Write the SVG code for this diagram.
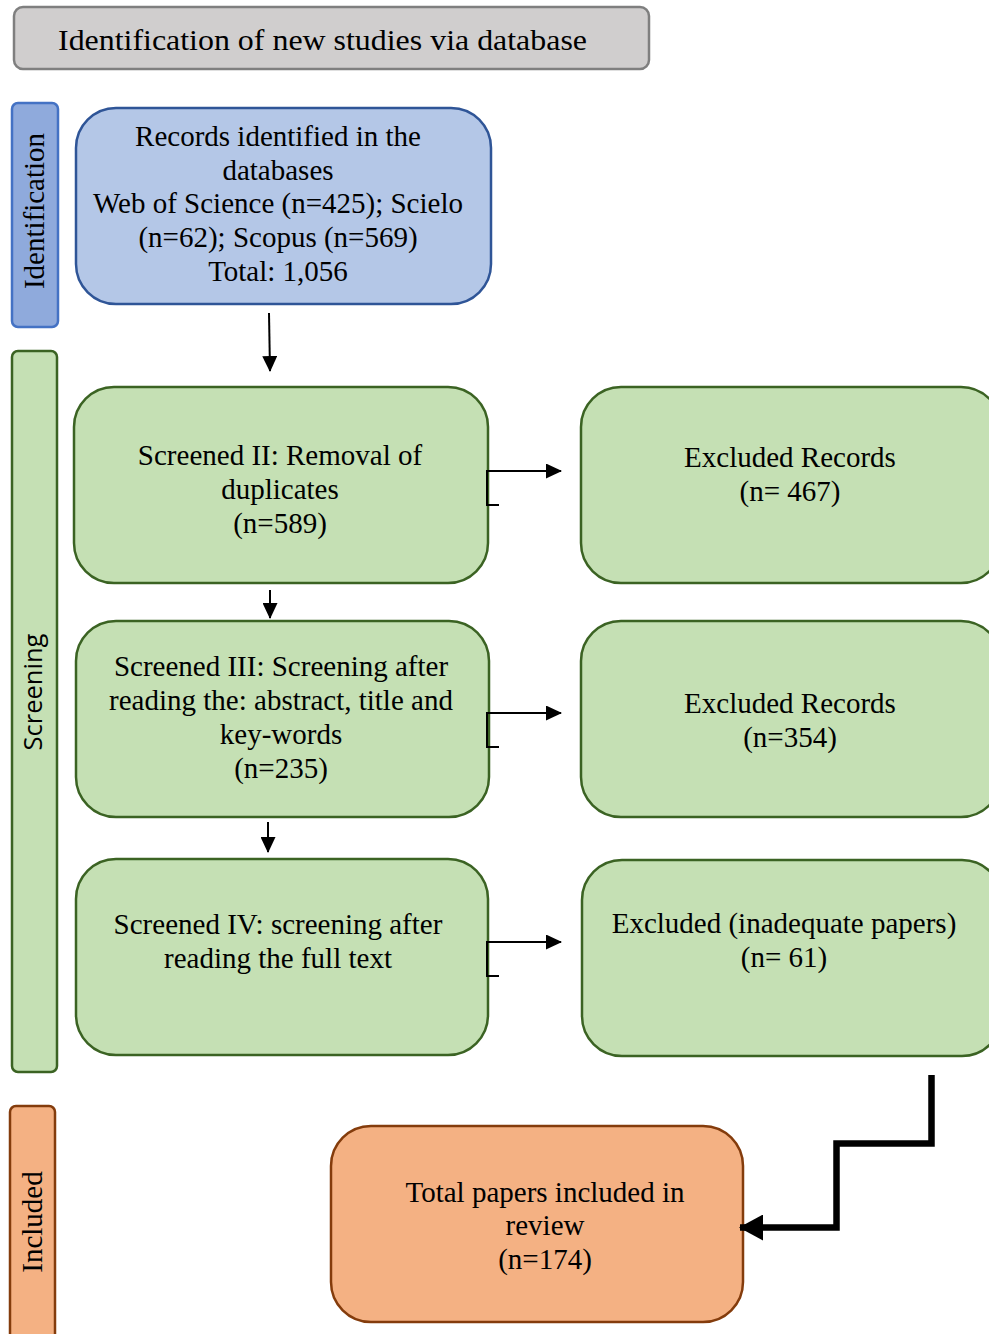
<svg xmlns="http://www.w3.org/2000/svg" width="989" height="1334" viewBox="0 0 989 1334">
<defs>
<style>
.t{font-family:"Liberation Serif","Times New Roman",serif;font-size:29px;fill:#000;text-anchor:middle}
.blue{fill:#b4c7e7;stroke:#2f5597;stroke-width:2.5}
.green{fill:#c5e0b4;stroke:#3b6323;stroke-width:2.5}
.orange{fill:#f4b183;stroke:#843c0c;stroke-width:2.5}
.c{fill:none;stroke:#000;stroke-width:2}
</style>
<marker id="ah" markerWidth="16" markerHeight="15" refX="15" refY="7.5" orient="auto" markerUnits="userSpaceOnUse">
<path d="M0,0 L16,7.5 L0,15 Z" fill="#000"/>
</marker>
<marker id="ahb" markerWidth="24" markerHeight="26" refX="23" refY="13" orient="auto" markerUnits="userSpaceOnUse">
<path d="M0,0 L24,13 L0,26 Z" fill="#000"/>
</marker>
</defs>
<rect width="989" height="1334" fill="#fff"/>

<g id="header">
<rect x="14" y="7" width="635" height="62" rx="9" fill="#d0cece" stroke="#7f7f7f" stroke-width="2.5"/>
<text class="t" x="322.5" y="50" font-size="32" textLength="529" lengthAdjust="spacingAndGlyphs">Identification of new studies via database</text>
</g>

<g id="phase-identification">
<rect x="12" y="103" width="46" height="224" rx="6" fill="#8faadc" stroke="#4472c4" stroke-width="2.5"/>
<text class="t" transform="translate(44,211) rotate(-90)">Identification</text>
</g>
<g id="phase-screening">
<rect x="12" y="351" width="45" height="721" rx="6" fill="#c5e0b4" stroke="#3b6323" stroke-width="2.5"/>
<text transform="translate(42,692) rotate(-90)" font-family="'Open Sans','Liberation Sans',sans-serif" font-size="25.5" text-anchor="middle">Screening</text>
</g>
<g id="phase-included">
<rect x="10" y="1106" width="45" height="250" rx="6" fill="#f4b183" stroke="#843c0c" stroke-width="2.5"/>
<text class="t" transform="translate(42,1222) rotate(-90)">Included</text>
</g>

<g id="records">
<rect class="blue" x="76" y="108" width="415" height="196" rx="40"/>
<text class="t" x="278" y="146">Records identified in the</text>
<text class="t" x="278" y="180">databases</text>
<text class="t" x="278" y="213">Web of Science (n=425); Scielo</text>
<text class="t" x="278" y="247">(n=62); Scopus (n=569)</text>
<text class="t" x="278" y="281">Total: 1,056</text>
</g>

<g id="screened2">
<rect class="green" x="74" y="387" width="414" height="196" rx="40"/>
<text class="t" x="280" y="465">Screened II: Removal of</text>
<text class="t" x="280" y="499">duplicates</text>
<text class="t" x="280" y="533">(n=589)</text>
</g>
<g id="excluded1">
<rect class="green" x="581" y="387" width="420" height="196" rx="40"/>
<text class="t" x="790" y="467">Excluded Records</text>
<text class="t" x="790" y="501">(n= 467)</text>
</g>

<g id="screened3">
<rect class="green" x="76" y="621" width="413" height="196" rx="40"/>
<text class="t" x="281" y="676">Screened III: Screening after</text>
<text class="t" x="281" y="710">reading the: abstract, title and</text>
<text class="t" x="281" y="744">key-words</text>
<text class="t" x="281" y="778">(n=235)</text>
</g>
<g id="excluded2">
<rect class="green" x="581" y="621" width="420" height="196" rx="40"/>
<text class="t" x="790" y="713">Excluded Records</text>
<text class="t" x="790" y="747">(n=354)</text>
</g>

<g id="screened4">
<rect class="green" x="76" y="859" width="412" height="196" rx="40"/>
<text class="t" x="278" y="934">Screened IV: screening after</text>
<text class="t" x="278" y="968">reading the full text</text>
</g>
<g id="excluded3">
<rect class="green" x="582" y="860" width="420" height="196" rx="40"/>
<text class="t" x="784" y="933">Excluded (inadequate papers)</text>
<text class="t" x="784" y="967">(n= 61)</text>
</g>

<g id="total">
<rect class="orange" x="331" y="1126" width="412" height="196" rx="40"/>
<text class="t" x="545" y="1202">Total papers included in</text>
<text class="t" x="545" y="1235">review</text>
<text class="t" x="545" y="1269">(n=174)</text>
</g>

<g id="connectors">
<path class="c" d="M269,313 L270,371" marker-end="url(#ah)"/>
<path class="c" d="M270,590 L270,618" marker-end="url(#ah)"/>
<path class="c" d="M268,822 L268,852" marker-end="url(#ah)"/>
<path class="c" d="M499,505 L487,505 L487,471 L561,471" marker-end="url(#ah)"/>
<path class="c" d="M499,747 L487,747 L487,713 L561,713" marker-end="url(#ah)"/>
<path class="c" d="M499,976 L487,976 L487,942 L561,942" marker-end="url(#ah)"/>
<path d="M931.5,1075 L931.5,1143.5 L836.5,1143.5 L836.5,1227.5 L740,1227.5" fill="none" stroke="#000" stroke-width="6.5" marker-end="url(#ahb)"/>
</g>
</svg>
